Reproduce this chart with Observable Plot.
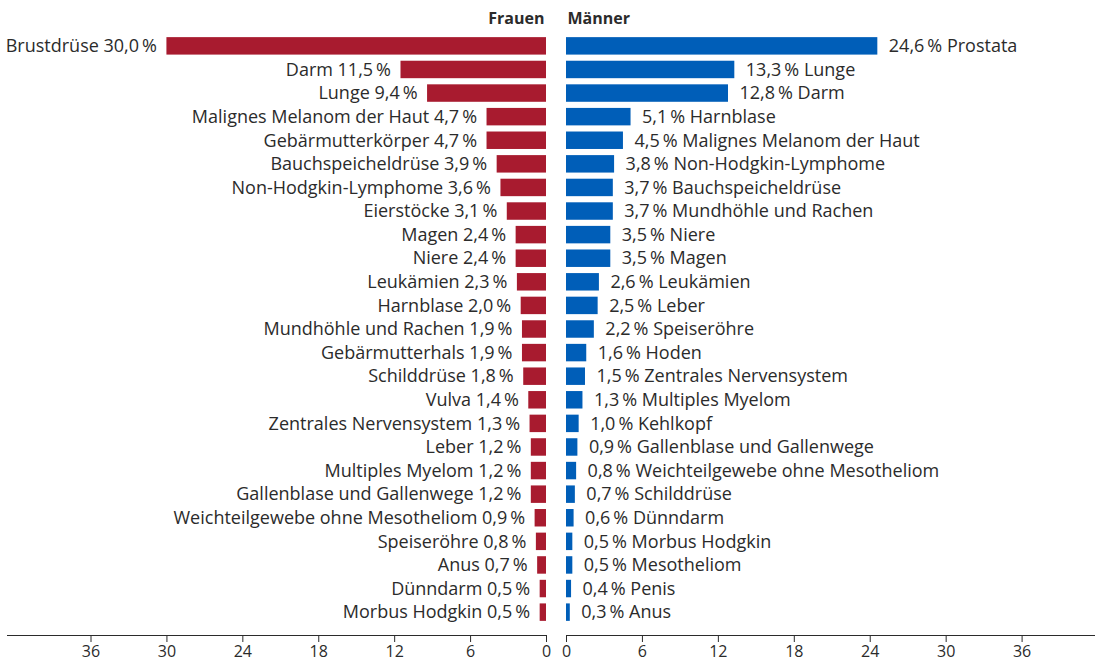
<!DOCTYPE html>
<html>
<head>
<meta charset="utf-8">
<script src="https://cdn.jsdelivr.net/npm/d3@7"></script>
<script src="https://cdn.jsdelivr.net/npm/@observablehq/plot@0.6"></script>
<style>
  html, body { margin: 0; padding: 0; background: #fff; }
  #wrap { position: relative; width: 1095px; height: 662px; overflow: hidden; }
  #left { position: absolute; left: 0; top: 0; }
  #right { position: absolute; left: 556px; top: 0; }
</style>
</head>
<body>
<div id="wrap"><div id="left"></div><div id="right"></div></div>
<script>
const womenSites = ["Brustdrüse","Darm","Lunge","Malignes Melanom der Haut","Gebärmutterkörper","Bauchspeicheldrüse","Non-Hodgkin-Lymphome","Eierstöcke","Magen","Niere","Leukämien","Harnblase","Mundhöhle und Rachen","Gebärmutterhals","Schilddrüse","Vulva","Zentrales Nervensystem","Leber","Multiples Myelom","Gallenblase und Gallenwege","Weichteilgewebe ohne Mesotheliom","Speiseröhre","Anus","Dünndarm","Morbus Hodgkin"];
const womenValues = [30.0,11.5,9.4,4.7,4.7,3.9,3.6,3.1,2.4,2.4,2.3,2.0,1.9,1.9,1.8,1.4,1.3,1.2,1.2,1.2,0.9,0.8,0.7,0.5,0.5];
const menSites = ["Prostata","Lunge","Darm","Harnblase","Malignes Melanom der Haut","Non-Hodgkin-Lymphome","Bauchspeicheldrüse","Mundhöhle und Rachen","Niere","Magen","Leukämien","Leber","Speiseröhre","Hoden","Zentrales Nervensystem","Multiples Myelom","Kehlkopf","Gallenblase und Gallenwege","Weichteilgewebe ohne Mesotheliom","Schilddrüse","Dünndarm","Morbus Hodgkin","Mesotheliom","Penis","Anus"];
const menValues = [24.6,13.3,12.8,5.1,4.5,3.8,3.7,3.7,3.5,3.5,2.6,2.5,2.2,1.6,1.5,1.3,1.0,0.9,0.8,0.7,0.6,0.5,0.5,0.4,0.3];
const tickValues = [0,6,12,18,24,30,36];
const panelTitles = ["Frauen","Männer"];

const women = womenSites.map((name, i) => ({name, value: womenValues[i]}));
const men = menSites.map((name, i) => ({name, value: menValues[i]}));
const fmt = v => v.toFixed(1).replace(".", ",") + "\u2009%";

const RED = "#A81B2F";
const BLUE = "#005EB8";
const TEXT = "#2b2b2b";
const font = "'Open Sans', sans-serif";

const common = {
  height: 662,
  marginTop: 31,
  marginBottom: 27,
  style: {fontFamily: font, fontSize: "16px", color: TEXT, background: "transparent", overflow: "visible"}
};

const axis = () => Plot.axisX({ticks: tickValues, tickSize: 7, tickPadding: 3, fontSize: 16, label: null, anchor: "bottom"});

const left = Plot.plot({
  ...common,
  width: 556,
  marginLeft: 7,
  marginRight: 10,
  x: {domain: [0, 42.6], reverse: true},
  y: {domain: womenSites, padding: 0.26, insetBottom: 8, round: false, axis: null},
  marks: [
    Plot.barX(women, {x: "value", y: "name", fill: RED}),
    Plot.text(women, {x: "value", y: "name", text: d => `${d.name} ${fmt(d.value)}`, textAnchor: "end", dx: -10, fill: TEXT, fontSize: 18}),
    Plot.text([panelTitles[0]], {frameAnchor: "top-right", text: d => d, dy: -19, dx: -2, fontWeight: "bold", fontSize: 16, fill: TEXT}),
    axis(),
    Plot.frame({anchor: "bottom", stroke: TEXT})
  ]
});

const right = Plot.plot({
  ...common,
  width: 539,
  marginLeft: 10,
  marginRight: 0,
  x: {domain: [0, 41.8]},
  y: {domain: menSites, padding: 0.26, insetBottom: 8, round: false, axis: null},
  marks: [
    Plot.barX(men, {x: "value", y: "name", fill: BLUE}),
    Plot.text(men, {x: "value", y: "name", text: d => `${fmt(d.value)} ${d.name}`, textAnchor: "start", dx: 11, fill: TEXT, fontSize: 18}),
    Plot.text([panelTitles[1]], {frameAnchor: "top-left", text: d => d, dy: -19, dx: 1, fontWeight: "bold", fontSize: 16, fill: TEXT}),
    axis(),
    Plot.frame({anchor: "bottom", stroke: TEXT})
  ]
});

document.getElementById("left").appendChild(left);
document.getElementById("right").appendChild(right);
</script>
</body>
</html>
